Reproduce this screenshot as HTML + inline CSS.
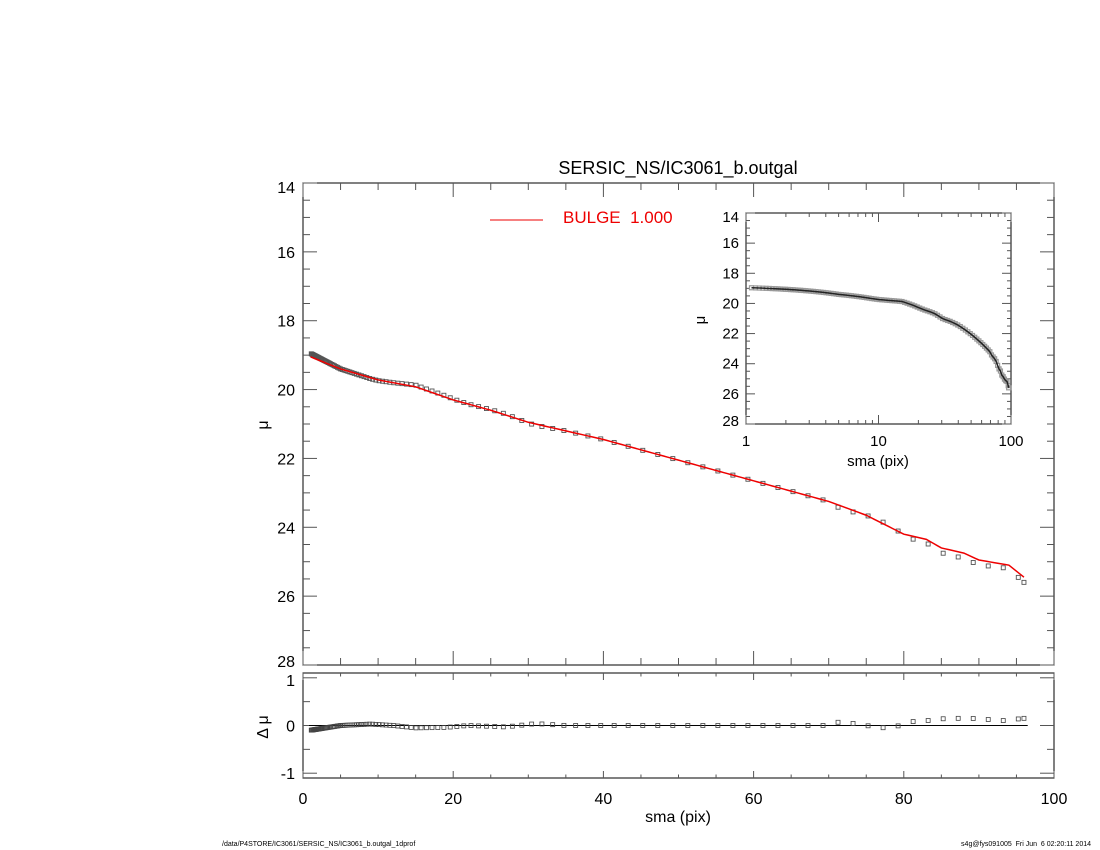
<!DOCTYPE html>
<html><head><meta charset="utf-8"><style>
body{margin:0;background:#fff}
svg{display:block;font-family:"Liberation Sans",sans-serif}
</style></head><body>
<svg id="s" width="1100" height="850" viewBox="0 0 1100 850" xmlns="http://www.w3.org/2000/svg">
<rect width="1100" height="850" fill="#fff"/>
<text x="678" y="174" font-size="18" text-anchor="middle">SERSIC_NS/IC3061_b.outgal</text>
<line x1="490" y1="220" x2="543" y2="220" stroke="#e00" stroke-width="1"/>
<text x="563" y="223" font-size="17" fill="#e00" xml:space="preserve" style="white-space:pre">BULGE  1.000</text>
<text x="678" y="822" font-size="16" text-anchor="middle">sma (pix)</text>
<text x="268" y="425" font-size="16" text-anchor="middle" transform="rotate(-90 268 425)">μ</text>
<text x="268" y="727" font-size="16" text-anchor="middle" transform="rotate(-90 268 727)">Δ μ</text>
<text x="222" y="846" font-size="7">/data/P4STORE/IC3061/SERSIC_NS/IC3061_b.outgal_1dprof</text>
<text x="1091" y="846" font-size="7" text-anchor="end" xml:space="preserve" style="white-space:pre">s4g@fys091005  Fri Jun  6 02:20:11 2014</text>
<text x="705" y="320" font-size="15" text-anchor="middle" transform="rotate(-90 705 320)">μ</text>
<text x="878" y="466" font-size="15" text-anchor="middle">sma (pix)</text>
<g id="g"></g>
</svg>
<script>
var g=document.getElementById('g'),h='';
function L(a,b,c,d,s,w){h+='<line x1="'+a+'" y1="'+b+'" x2="'+c+'" y2="'+d+'" stroke="'+(s||'#000')+'" stroke-width="'+(w||1)+'"/>';}
function T(x,y,t,fs,a){h+='<text x="'+x+'" y="'+y+'" font-size="'+fs+'" text-anchor="'+(a||'middle')+'">'+t+'</text>';}
var X0=303,X1=1054,Y0=183,Y1=665,RY0=673,RY1=778;
function px(r){return X0+(X1-X0)*r/100}
function py(m){return Y0+(m-14)*(Y1-Y0)/14}
function ry(d){return 725.5-d*47.7}
h+='<rect x="'+X0+'" y="'+Y0+'" width="'+(X1-X0)+'" height="'+(Y1-Y0)+'" fill="none" stroke="#000"/>';
h+='<rect x="'+X0+'" y="'+RY0+'" width="'+(X1-X0)+'" height="'+(RY1-RY0)+'" fill="none" stroke="#000"/>';
for(var r=0;r<=100;r+=5){var x=px(r),l=(r%20==0)?14:7;
 L(x,Y0,x,Y0+l,'#555');L(x,Y1,x,Y1-l,'#555');L(x,RY0,x,RY0+l/2,'#555');L(x,RY1,x,RY1-l/2,'#555');
 if(r%20==0)T(x,804,r,16);}
for(var m=14;m<=28;m+=0.5){var y=py(m),l=(m%2==0)?14:7;L(X0,y,X0+l,y,'#555');L(X1,y,X1-l,y,'#555');if(m%2==0)T(295,y+(m==28?2:(m==14?10:6)),m,16,'end');}
for(var d=-1;d<=1;d+=0.5){var y=ry(d),l=(d%1==0)?14:7;L(X0,y,X0+l,y,'#555');L(X1,y,X1-l,y,'#555');if(d%1==0)T(295,y+(d==1?8:6),d,16,'end');}
var M=[[1,19.05],[5,19.4],[10,19.72],[15,19.92],[20,20.3],[25,20.6],[30,20.95],[40,21.45],[50,22.05],[60,22.65],[70,23.25],[75,23.65],[80,24.2],[83,24.35],[85,24.6],[88,24.75],[90,24.95],[94,25.1],[96,25.45]];
var R=[[1,-0.1],[5,0],[9,0.03],[12,0],[15,-0.05],[19,-0.04],[22,0],[27,-0.03],[31,0.04],[35,0],[70,0],[71,0.07],[73,0.05],[75,0],[77,-0.05],[79,-0.02],[81,0.08],[83,0.1],[85,0.14],[87,0.15],[89,0.15],[91,0.13],[93,0.1],[96,0.15]];
function I(A,r){if(r<=A[0][0])return A[0][1];for(var i=1;i<A.length;i++)if(r<=A[i][0]){var t=(r-A[i-1][0])/(A[i][0]-A[i-1][0]);return A[i-1][1]+t*(A[i][1]-A[i-1][1]);}return A[A.length-1][1];}
var rs=[];for(var r=1.1;r<=96;r+=Math.min(2,Math.max(0.08,0.045*r)))rs.push(r);rs.push(96);
L(px(0.8),ry(0),px(96.5),ry(0),'#000');
var pts='';
rs.forEach(function(r){var d=I(R,r),m=I(M,r)+d,x=px(r);
 h+='<rect x="'+(x-2)+'" y="'+(py(m)-2)+'" width="4" height="4" fill="none" stroke="#555" stroke-width="0.9"/>';
 h+='<rect x="'+(x-2)+'" y="'+(ry(d)-2)+'" width="4" height="4" fill="none" stroke="#444" stroke-width="0.8"/>';
});
for(var r=1;r<=96;r+=0.5)pts+=px(r)+','+py(I(M,r))+' ';
h+='<polyline points="'+pts+'" fill="none" stroke="#e00" stroke-width="1.5"/>';
var IX0=746,IX1=1011,IY0=213,IY1=424;
function ix(r){return IX0+(IX1-IX0)*Math.log10(r)/2}
function iy(m){return IY0+(m-14)*(IY1-IY0)/14}
h+='<rect x="'+IX0+'" y="'+IY0+'" width="'+(IX1-IX0)+'" height="'+(IY1-IY0)+'" fill="#fff" stroke="#000"/>';
for(var m=14;m<=28;m+=0.5){var y=iy(m),l=(m%2==0)?9:4;L(IX0,y,IX0+l,y,'#555');L(IX1,y,IX1-l,y,'#555');if(m%2==0)T(739,y+(m==28?2:(m==14?9:5)),m,15,'end');}
for(var e=0;e<2;e++)for(var k=1;k<=10;k++){var v=k*Math.pow(10,e);var x=ix(v),l=(k==1||k==10)?9:4;L(x,IY0,x,IY0+l,'#555');L(x,IY1,x,IY1-l,'#555');}
T(IX0,446,1,15);T(ix(10),446,10,15);T(IX1,446,100,15);
var ip='';
rs.forEach(function(r){var m=I(M,r)+I(R,r);h+='<rect x="'+(ix(r)-2)+'" y="'+(iy(m)-2)+'" width="4" height="4" fill="none" stroke="#999" stroke-width="1.2"/>';ip+=ix(r)+','+iy(m)+' ';});
h+='<polyline points="'+ip+'" fill="none" stroke="#222" stroke-width="1.5"/>';
g.innerHTML=h;
</script>
</body></html>
